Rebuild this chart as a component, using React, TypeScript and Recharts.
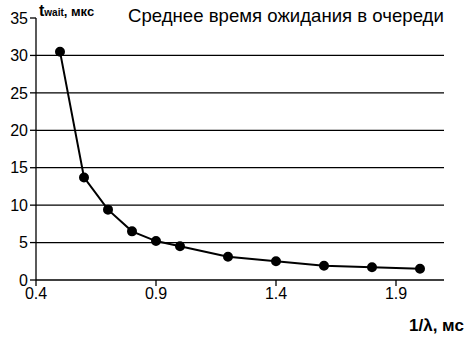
import { LineChart, Line, XAxis, YAxis, CartesianGrid } from 'recharts';

const xValues = [0.5, 0.6, 0.7, 0.8, 0.9, 1.0, 1.2, 1.4, 1.6, 1.8, 2.0];
const waitTimes = [30.5, 13.7, 9.4, 6.5, 5.2, 4.5, 3.1, 2.5, 1.9, 1.7, 1.5];
const xTicks = [0.4, 0.9, 1.4, 1.9];
const yTicks = [0, 5, 10, 15, 20, 25, 30, 35];
const gridLines = [5, 10, 15, 20, 25, 30];

const data = xValues.map((x, i) => ({ x, t: waitTimes[i] }));

const font = '"Liberation Sans", Arial, sans-serif';

export default function App() {
  return (
    <div style={{ position: 'absolute', left: 0, top: 0, width: 470, height: 348, background: '#fff', fontFamily: font }}>
      <LineChart width={470} height={348} data={data} margin={{ top: 18, right: 26, left: 0, bottom: 0 }}>
        <CartesianGrid stroke="#000" strokeWidth={1.3} vertical={false} horizontalValues={gridLines} />
        <XAxis
          dataKey="x"
          type="number"
          domain={[0.4, 2.1]}
          ticks={xTicks}
          tickFormatter={(v: number) => v.toFixed(1)}
          height={68}
          stroke="#000"
          strokeWidth={1.3}
          tickSize={6}
          tick={{ fill: '#000', fontSize: 16, fontFamily: font }}
        />
        <YAxis
          domain={[0, 35]}
          ticks={yTicks}
          width={36}
          stroke="#000"
          strokeWidth={1.3}
          tickSize={6}
          tick={{ fill: '#000', fontSize: 16, fontFamily: font }}
        />
        <Line
          dataKey="t"
          type="linear"
          stroke="#000"
          strokeWidth={2}
          dot={{ r: 4, fill: '#000', stroke: '#000' }}
          isAnimationActive={false}
        />
      </LineChart>
      <div style={{ position: 'absolute', left: 39, top: 2, fontWeight: 'bold', color: '#000', whiteSpace: 'nowrap' }}>
        <span style={{ fontSize: 16 }}>t</span>
        <span style={{ fontSize: 10 }}>wait</span>
        <span style={{ fontSize: 13 }}>, мкс</span>
      </div>
      <div style={{ position: 'absolute', left: 128, top: 5, fontSize: 18.6, color: '#000', whiteSpace: 'nowrap' }}>
        Среднее время ожидания в очереди
      </div>
      <div style={{ position: 'absolute', left: 409, top: 316, fontSize: 17, fontWeight: 'bold', color: '#000', whiteSpace: 'nowrap' }}>
        1/λ, мс
      </div>
    </div>
  );
}
